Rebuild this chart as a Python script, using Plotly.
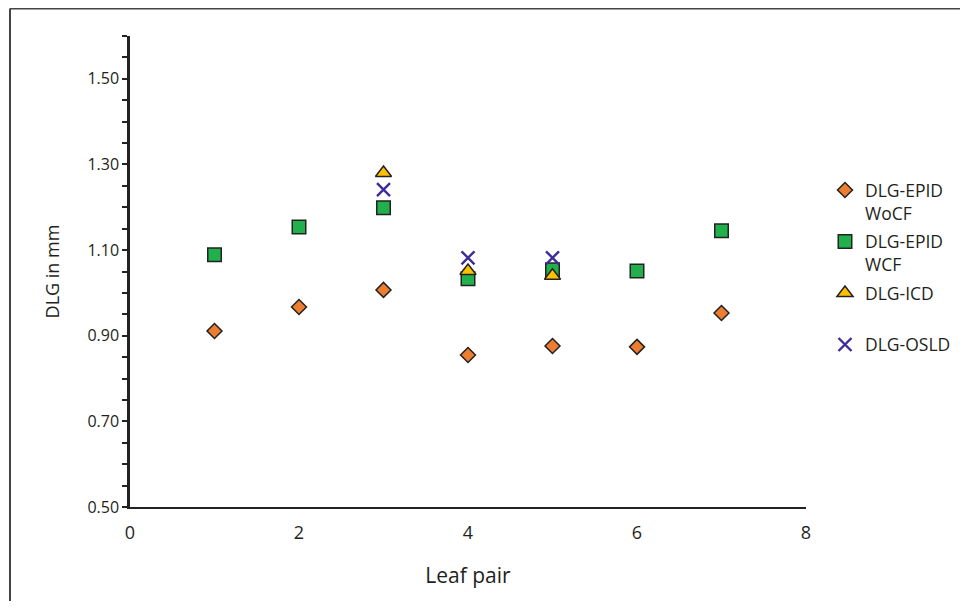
import plotly.graph_objects as go

leaf_epid = [1, 2, 3, 4, 5, 6, 7]
epid_wocf = [0.911, 0.967, 1.007, 0.855, 0.876, 0.874, 0.953]
epid_wcf = [1.089, 1.154, 1.199, 1.033, 1.054, 1.051, 1.145]
leaf_icd = [3, 4, 5]
icd = [1.280, 1.051, 1.040]
leaf_osld = [3, 4, 5]
osld = [1.241, 1.082, 1.082]

FONT = "Open Sans"
TXT = "#231F20"

# figure sits at (8, 8) inside the page because of the default body margin
W, H = 960, 593
L, R, T, B = 122, 162, 28, 94
PW, PH = W - L - R, H - T - B

fig = go.Figure()
fig.add_trace(go.Scatter(x=leaf_epid, y=epid_wocf, mode="markers", name="DLG-EPID<br>WoCF",
                         legendgroup="a",
                         marker=dict(symbol="diamond", size=11.5, color="#ED7D31",
                                     line=dict(color="#222222", width=1.5))))
fig.add_trace(go.Scatter(x=leaf_epid, y=epid_wcf, mode="markers", name="DLG-EPID<br>WCF",
                         legendgroup="b",
                         marker=dict(symbol="square", size=13.5, color="#21B04B",
                                     line=dict(color="#222222", width=1.5))))
fig.add_trace(go.Scatter(x=leaf_icd, y=icd, mode="markers", name="DLG-ICD<br> ",
                         legendgroup="c",
                         marker=dict(symbol="triangle-up", size=14, color="#FFC000",
                                     line=dict(color="#222222", width=1.5))))
fig.add_trace(go.Scatter(x=leaf_osld, y=osld, mode="markers", name="DLG-OSLD",
                         legendgroup="d",
                         marker=dict(symbol="x-thin", size=13, color="#3D2C9B",
                                     line=dict(color="#3D2C9B", width=2.4))))

fig.update_layout(
    width=W, height=H,
    margin=dict(l=L, r=R, t=T, b=B),
    paper_bgcolor="white", plot_bgcolor="white",
    font=dict(family=FONT, color=TXT),
    showlegend=True,
    legend=dict(x=1 + 19 / PW, y=0.711, xanchor="left", yanchor="top", valign="top",
                font=dict(size=17.5, family=FONT, color=TXT),
                tracegroupgap=3, itemwidth=30, bgcolor="rgba(0,0,0,0)"),
    xaxis=dict(range=[0, 8], tickvals=[0, 2, 4, 6, 8], showgrid=False, zeroline=False,
               showline=True, linecolor="#222222", linewidth=2, ticks="",
               tickfont=dict(size=18, family=FONT, color=TXT), ticklen=0, ticklabelstandoff=8,
               title=dict(text="Leaf pair", font=dict(size=21, family=FONT, color=TXT), standoff=26)),
    yaxis=dict(range=[0.5, 1.6], tick0=0.5, dtick=0.2, tickformat=".2f",
               showgrid=False, zeroline=False, showline=True, linecolor="#222222", linewidth=2.5,
               ticks="outside", ticklen=5, tickwidth=1.5, tickcolor="#222222",
               minor=dict(dtick=0.05, tick0=0.5, ticks="outside", ticklen=5, tickwidth=1.5,
                          tickcolor="#222222", showgrid=False),
               tickfont=dict(size=16, family=FONT, color=TXT),
               title=dict(text="DLG in mm", font=dict(size=18, family=FONT, color=TXT), standoff=24)),
)

# outer frame (top and left edges)
x_left = (2 - L) / PW
y_top = 1 + (T - 0.5) / PH
y_bot = -(B) / PH
fig.add_shape(type="line", xref="paper", yref="paper", x0=x_left, x1=(W - L) / PW,
              y0=y_top, y1=y_top, line=dict(color="#444444", width=2))
fig.add_shape(type="line", xref="paper", yref="paper", x0=x_left, x1=x_left,
              y0=y_top, y1=y_bot, line=dict(color="#444444", width=2))

fig.write_html("out.html")
